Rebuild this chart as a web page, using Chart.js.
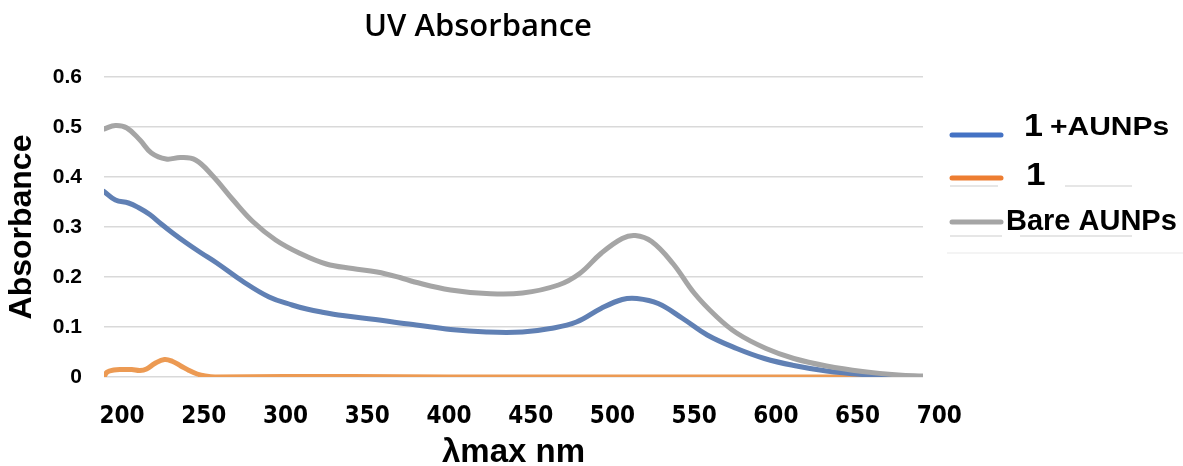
<!DOCTYPE html>
<html>
<head>
<meta charset="utf-8">
<title>UV Absorbance</title>
<script src="https://cdn.jsdelivr.net/npm/chart.js@4.4.0/dist/chart.umd.min.js"></script>
<style>
  html, body { margin: 0; padding: 0; background: #fff; }
  #wrap { position: relative; width: 1183px; height: 466px; }
</style>
</head>
<body>
<div id="wrap"><canvas id="uv"></canvas></div>
<script>
// readings taken off the spectrum (nm / absorbance)
var chartTitle = 'UV Absorbance';
var seriesNames = ['1+AUNPs', '1', 'Bare AUNPs'];

var aunpNm  = [189, 196, 204, 210, 217, 224, 231, 239, 248, 258, 274, 290, 304, 313, 322, 335, 355, 370, 380, 401, 423, 445, 462, 478, 493, 506, 515, 528, 543, 558, 576, 593, 611, 631, 653, 672, 690];
var aunpAbs = [0.371, 0.354, 0.348, 0.339, 0.325, 0.306, 0.288, 0.269, 0.249, 0.228, 0.191, 0.160, 0.144, 0.136, 0.130, 0.123, 0.115, 0.108, 0.104, 0.095, 0.090, 0.090, 0.097, 0.110, 0.137, 0.155, 0.157, 0.147, 0.117, 0.084, 0.057, 0.037, 0.023, 0.012, 0.005, 0.002, 0.0];

var ligandNm  = [189, 191, 195, 200, 206, 211, 215, 220, 226, 231, 236, 241, 246, 251, 257, 300, 340, 400, 500, 600, 690];
var ligandAbs = [0.0, 0.010, 0.014, 0.015, 0.015, 0.013, 0.016, 0.027, 0.035, 0.031, 0.022, 0.013, 0.006, 0.002, 0.0, 0.001, 0.001, 0.0, 0.0, 0.0, 0.0];

var bareNm  = [189, 196, 203, 211, 218, 227, 236, 245, 255, 268, 280, 294, 309, 325, 341, 356, 370, 379, 401, 423, 445, 467, 480, 493, 506, 514, 524, 537, 550, 563, 576, 594, 611, 631, 653, 675, 690];
var bareAbs = [0.496, 0.503, 0.498, 0.474, 0.448, 0.436, 0.439, 0.434, 0.404, 0.354, 0.311, 0.274, 0.247, 0.226, 0.217, 0.210, 0.199, 0.190, 0.174, 0.167, 0.168, 0.184, 0.207, 0.247, 0.277, 0.283, 0.271, 0.227, 0.168, 0.123, 0.088, 0.057, 0.037, 0.022, 0.011, 0.004, 0.002];

var xTicks = [200, 250, 300, 350, 400, 450, 500, 550, 600, 650, 700];
var yTicks = [0, 0.1, 0.2, 0.3, 0.4, 0.5, 0.6];

var lineColors = ['#6080b4', '#ec9a53', '#a5a5a5'];
var legendColors = ['#4472c4', '#ed7d31', '#a5a5a5'];

function toPoints(xs, ys) {
    return xs.map(function (x, i) { return { x: x, y: ys[i] }; });
}

var boldSans = 'Liberation Sans, Arial, sans-serif';
var narrowSans = '"Liberation Sans Narrow", "DejaVu Sans Condensed", "Liberation Sans", sans-serif';

function wideText(ctx, text, x, y, sx) {
    ctx.save();
    ctx.translate(x, y);
    ctx.scale(sx, 1);
    ctx.fillText(text, 0, 0);
    ctx.restore();
}

// title + hand-made legend (mixed font sizes like the original)
var overlay = {
    id: 'overlay',
    afterDraw: function (chart) {
        var ctx = chart.ctx;
        ctx.save();
        ctx.fillStyle = '#000';
        ctx.textAlign = 'center';
        ctx.textBaseline = 'middle';
        ctx.font = '600 31px "Open Sans", sans-serif';
        ctx.fillText(chartTitle, 478, 27);

        // faint leftovers around the legend
        ctx.strokeStyle = '#dedede';
        ctx.lineWidth = 1.5;
        [[950, 998, 186], [1065, 1132, 186], [950, 1002, 236], [1020, 1132, 236]].forEach(function (s) {
            ctx.beginPath(); ctx.moveTo(s[0], s[2]); ctx.lineTo(s[1], s[2]); ctx.stroke();
        });
        ctx.strokeStyle = '#f1f1f1';
        ctx.beginPath(); ctx.moveTo(947, 253); ctx.lineTo(1183, 253); ctx.stroke();

        var rows = [135, 178, 222];
        ctx.textAlign = 'left';
        ctx.textBaseline = 'alphabetic';
        chart.data.datasets.forEach(function (ds, i) {
            var y = rows[i];
            ctx.strokeStyle = legendColors[i];
            ctx.lineWidth = 5;
            ctx.lineCap = 'round';
            ctx.beginPath(); ctx.moveTo(952, y); ctx.lineTo(1001, y); ctx.stroke();
            ctx.fillStyle = '#000';
            var m = ds.label.match(/^1(\+.*)$/);
            if (m) {
                ctx.font = 'bold 31px ' + boldSans;
                wideText(ctx, '1', 1024, y + 1, 1.1);
                ctx.font = 'bold 25px ' + boldSans;
                wideText(ctx, m[1], 1050, y, 1.2);
            } else if (ds.label === '1') {
                ctx.font = 'bold 32px ' + boldSans;
                wideText(ctx, '1', 1026, y + 7, 1.1);
            } else {
                ctx.font = 'bold 29px ' + boldSans;
                ctx.fillText(ds.label, 1006, y + 8);
            }
        });
        ctx.restore();
    }
};

var ctx = document.getElementById('uv').getContext('2d');
var chart = new Chart(ctx, {
    type: 'line',
    data: {
        datasets: [{
                label: seriesNames[0],
                data: toPoints(aunpNm, aunpAbs),
                borderColor: lineColors[0],
                order: 2
            },
            {
                label: seriesNames[1],
                data: toPoints(ligandNm, ligandAbs),
                borderColor: lineColors[1],
                order: 3
            },
            {
                label: seriesNames[2],
                data: toPoints(bareNm, bareAbs),
                borderColor: lineColors[2],
                order: 1
            }
        ]
    },
    options: {
        responsive: true,
        maintainAspectRatio: false,
        animation: false,
        layout: { padding: { left: 0, top: 77, right: 260, bottom: 0 } },
        elements: {
            point: { radius: 0 },
            line: { borderWidth: 5, tension: 0.4, fill: false, borderCapStyle: 'round', borderJoinStyle: 'round' }
        },
        plugins: {
            legend: { display: false },
            title: { display: false },
            tooltip: { enabled: false }
        },
        scales: {
            x: {
                type: 'linear',
                min: 189,
                max: 690,
                afterBuildTicks: function (s) { s.ticks = xTicks.map(function (v) { return { value: v }; }); },
                afterFit: function (s) { s.height = 89; },
                grid: { display: false },
                border: { display: false },
                ticks: {
                    autoSkip: false,
                    maxRotation: 0,
                    padding: 20,
                    color: '#000',
                    font: { family: narrowSans, size: 24, weight: 'bold', lineHeight: 1 },
                    callback: function (v) { return String(v); }
                },
                title: {
                    display: true,
                    text: 'λmax nm',
                    color: '#000',
                    font: { family: boldSans, size: 33, weight: 'bold', lineHeight: 0.8 },
                    padding: { top: 0, bottom: 0 }
                }
            },
            y: {
                min: 0,
                max: 0.6,
                afterBuildTicks: function (s) { s.ticks = yTicks.map(function (v) { return { value: v }; }); },
                afterFit: function (s) { s.width = 104; },
                grid: { color: '#d9d9d9', lineWidth: 1.5, drawTicks: false },
                border: { display: false },
                ticks: {
                    padding: 22,
                    color: '#000',
                    font: { family: boldSans, size: 21, weight: 'bold' },
                    callback: function (v) { return v === 0 ? '0' : v.toFixed(1); }
                },
                title: {
                    display: true,
                    text: 'Absorbance',
                    color: '#000',
                    font: { family: boldSans, size: 32, weight: 'bold', lineHeight: 1 },
                    padding: { top: 6, bottom: 0 }
                }
            }
        }
    },
    plugins: [overlay]
});
</script>
</body>
</html>
